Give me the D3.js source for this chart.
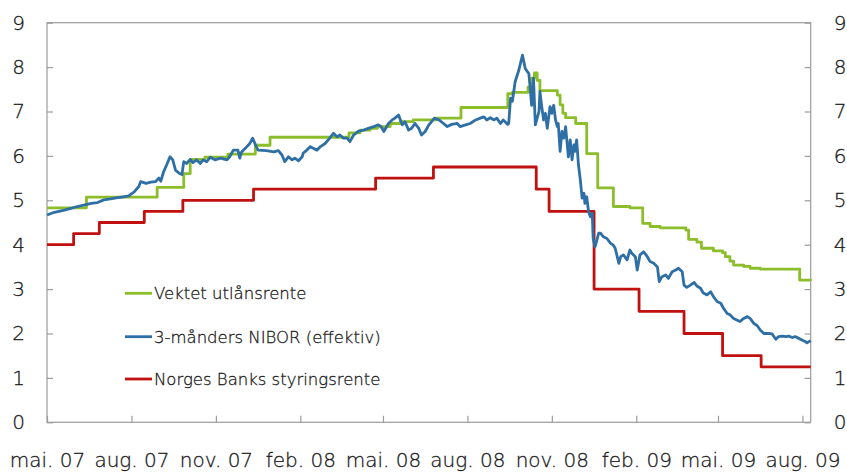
<!DOCTYPE html>
<html>
<head>
<meta charset="utf-8">
<script src="https://cdn.jsdelivr.net/npm/d3@7"></script>
<style>
  html, body { margin: 0; padding: 0; background: #fff; }
  svg text { font-family: "DejaVu Sans", sans-serif; font-weight: 200; fill: #1a1a1a;
             stroke: #1a1a1a; stroke-width: 0.3px; }
</style>
</head>
<body>
<svg id="chart" width="847" height="473"></svg>
<script>
// Axis ticks and labels
const yTicks = [0, 1, 2, 3, 4, 5, 6, 7, 8, 9];
const xTickDates = ["2007-05-01", "2007-08-01", "2007-11-01", "2008-02-01", "2008-05-01",
                    "2008-08-01", "2008-11-01", "2009-02-01", "2009-05-01", "2009-08-01"];
const xTickLabels = ["mai. 07", "aug. 07", "nov. 07", "feb. 08", "mai. 08",
                     "aug. 08", "nov. 08", "feb. 09", "mai. 09", "aug. 09"];
const dateRange = ["2007-05-01", "2009-08-10"];

const seriesNames = ["Vektet utlånsrente", "3-månders NIBOR (effektiv)", "Norges Banks styringsrente"];

// Weighted lending rate (changes, held until next change)
const lending = [
  ["2007-05-01", 4.83], ["2007-06-13", 5.07], ["2007-08-29", 5.29], ["2007-09-27", 5.60],
  ["2007-10-04", 5.92], ["2007-10-20", 5.97], ["2007-11-14", 6.04], ["2007-12-14", 6.24],
  ["2007-12-30", 6.42], ["2008-03-25", 6.52], ["2008-04-06", 6.58], ["2008-04-17", 6.62],
  ["2008-04-25", 6.66], ["2008-05-09", 6.73], ["2008-05-20", 6.77], ["2008-06-03", 6.81],
  ["2008-06-28", 6.85], ["2008-07-25", 7.09], ["2008-09-14", 7.40], ["2008-09-19", 7.43],
  ["2008-10-06", 7.55], ["2008-10-10", 7.75], ["2008-10-13", 7.87], ["2008-10-16", 7.70],
  ["2008-10-19", 7.47], ["2008-11-07", 7.37], ["2008-11-10", 7.15], ["2008-11-13", 6.96],
  ["2008-11-16", 6.86], ["2008-11-27", 6.73], ["2008-12-09", 6.05], ["2008-12-21", 5.28],
  ["2009-01-07", 4.86], ["2009-01-25", 4.83], ["2009-02-08", 4.48], ["2009-02-16", 4.41],
  ["2009-02-27", 4.38], ["2009-03-27", 4.33], ["2009-03-30", 4.12], ["2009-04-08", 4.06],
  ["2009-04-13", 3.92], ["2009-04-26", 3.86], ["2009-05-06", 3.82], ["2009-05-09", 3.73],
  ["2009-05-14", 3.63], ["2009-05-18", 3.54], ["2009-05-29", 3.51], ["2009-06-05", 3.47],
  ["2009-06-16", 3.45], ["2009-07-29", 3.20], ["2009-08-10", 3.19]
];

// 3-month NIBOR (effective)
const nibor = [
  ["2007-05-01", 4.67], ["2007-05-09", 4.73], ["2007-05-20", 4.78], ["2007-05-27", 4.82],
  ["2007-06-03", 4.86], ["2007-06-10", 4.89], ["2007-06-18", 4.93], ["2007-06-25", 4.95],
  ["2007-07-02", 5.01], ["2007-07-09", 5.03], ["2007-07-17", 5.06], ["2007-07-24", 5.08],
  ["2007-07-29", 5.10], ["2007-08-04", 5.19], ["2007-08-09", 5.31], ["2007-08-11", 5.42],
  ["2007-08-17", 5.38], ["2007-08-22", 5.41], ["2007-08-27", 5.42], ["2007-08-31", 5.50],
  ["2007-09-02", 5.43], ["2007-09-05", 5.64], ["2007-09-09", 5.83], ["2007-09-12", 5.98],
  ["2007-09-15", 5.91], ["2007-09-18", 5.68], ["2007-09-22", 5.61], ["2007-09-25", 5.58],
  ["2007-09-27", 5.87], ["2007-09-30", 5.83], ["2007-10-04", 5.92], ["2007-10-07", 5.85],
  ["2007-10-11", 5.91], ["2007-10-15", 5.83], ["2007-10-18", 5.91], ["2007-10-22", 5.87],
  ["2007-10-26", 5.97], ["2007-10-31", 5.91], ["2007-11-06", 5.95], ["2007-11-13", 5.91],
  ["2007-11-16", 5.98], ["2007-11-20", 6.13], ["2007-11-25", 6.13], ["2007-11-27", 5.95],
  ["2007-11-29", 6.09], ["2007-12-03", 6.17], ["2007-12-08", 6.28], ["2007-12-11", 6.40],
  ["2007-12-15", 6.21], ["2007-12-17", 6.13], ["2007-12-26", 6.12], ["2008-01-03", 6.09],
  ["2008-01-08", 6.12], ["2008-01-12", 6.02], ["2008-01-15", 5.87], ["2008-01-19", 5.98],
  ["2008-01-23", 5.91], ["2008-01-26", 5.95], ["2008-01-30", 5.89], ["2008-02-03", 5.98],
  ["2008-02-04", 6.06], ["2008-02-08", 6.13], ["2008-02-12", 6.21], ["2008-02-15", 6.17],
  ["2008-02-19", 6.13], ["2008-02-23", 6.21], ["2008-02-28", 6.28], ["2008-03-04", 6.40],
  ["2008-03-08", 6.51], ["2008-03-12", 6.43], ["2008-03-15", 6.47], ["2008-03-19", 6.40],
  ["2008-03-23", 6.40], ["2008-03-26", 6.32], ["2008-03-30", 6.47], ["2008-04-04", 6.55],
  ["2008-04-10", 6.58], ["2008-04-15", 6.62], ["2008-04-21", 6.66], ["2008-04-26", 6.70],
  ["2008-04-29", 6.66], ["2008-05-02", 6.55], ["2008-05-07", 6.73], ["2008-05-11", 6.81],
  ["2008-05-14", 6.85], ["2008-05-18", 6.92], ["2008-05-22", 6.70], ["2008-05-25", 6.77],
  ["2008-05-29", 6.58], ["2008-06-01", 6.62], ["2008-06-05", 6.73], ["2008-06-09", 6.62],
  ["2008-06-12", 6.47], ["2008-06-16", 6.55], ["2008-06-20", 6.70], ["2008-06-23", 6.77],
  ["2008-06-26", 6.85], ["2008-07-01", 6.81], ["2008-07-06", 6.73], ["2008-07-10", 6.66],
  ["2008-07-15", 6.71], ["2008-07-21", 6.73], ["2008-07-24", 6.66], ["2008-07-30", 6.70],
  ["2008-08-04", 6.73], ["2008-08-10", 6.81], ["2008-08-15", 6.85], ["2008-08-19", 6.88],
  ["2008-08-22", 6.81], ["2008-08-26", 6.86], ["2008-08-30", 6.81], ["2008-09-02", 6.85],
  ["2008-09-06", 6.73], ["2008-09-09", 6.81], ["2008-09-14", 6.71], ["2008-09-15", 6.73],
  ["2008-09-17", 7.30], ["2008-09-19", 7.23], ["2008-09-22", 7.67], ["2008-09-26", 7.93],
  ["2008-09-30", 8.27], ["2008-10-03", 7.97], ["2008-10-07", 7.85], ["2008-10-10", 7.14],
  ["2008-10-12", 7.75], ["2008-10-14", 6.70], ["2008-10-18", 7.00], ["2008-10-19", 7.45],
  ["2008-10-21", 7.11], ["2008-10-23", 6.81], ["2008-10-25", 6.96], ["2008-10-27", 6.62],
  ["2008-10-30", 7.11], ["2008-11-01", 6.96], ["2008-11-03", 7.14], ["2008-11-05", 6.81],
  ["2008-11-07", 6.66], ["2008-11-08", 6.73], ["2008-11-10", 6.10], ["2008-11-12", 6.55],
  ["2008-11-14", 6.40], ["2008-11-16", 6.66], ["2008-11-17", 6.43], ["2008-11-19", 5.98],
  ["2008-11-21", 6.36], ["2008-11-23", 5.91], ["2008-11-25", 6.25], ["2008-11-26", 6.10],
  ["2008-11-28", 6.36], ["2008-11-30", 5.80], ["2008-12-02", 5.46], ["2008-12-04", 5.05],
  ["2008-12-06", 5.16], ["2008-12-07", 4.93], ["2008-12-09", 5.08], ["2008-12-11", 4.74],
  ["2008-12-13", 4.63], ["2008-12-15", 4.71], ["2008-12-16", 4.14], ["2008-12-18", 3.95],
  ["2008-12-20", 4.10], ["2008-12-22", 4.26], ["2008-12-24", 4.26], ["2008-12-27", 4.18],
  ["2008-12-31", 4.14], ["2009-01-04", 4.03], ["2009-01-07", 3.99], ["2009-01-09", 3.92],
  ["2009-01-13", 3.58], ["2009-01-15", 3.73], ["2009-01-18", 3.77], ["2009-01-22", 3.66],
  ["2009-01-25", 3.88], ["2009-01-27", 3.81], ["2009-01-31", 3.73], ["2009-02-02", 3.43],
  ["2009-02-05", 3.77], ["2009-02-09", 3.84], ["2009-02-13", 3.73], ["2009-02-16", 3.62],
  ["2009-02-20", 3.58], ["2009-02-24", 3.50], ["2009-02-26", 3.17], ["2009-03-01", 3.28],
  ["2009-03-05", 3.32], ["2009-03-08", 3.24], ["2009-03-12", 3.39], ["2009-03-16", 3.43],
  ["2009-03-19", 3.47], ["2009-03-23", 3.39], ["2009-03-25", 3.09], ["2009-03-28", 3.04],
  ["2009-04-01", 3.09], ["2009-04-05", 3.15], ["2009-04-08", 3.07], ["2009-04-12", 3.02],
  ["2009-04-15", 2.91], ["2009-04-19", 2.87], ["2009-04-23", 2.94], ["2009-04-26", 2.83],
  ["2009-04-30", 2.72], ["2009-05-04", 2.68], ["2009-05-07", 2.57], ["2009-05-11", 2.45],
  ["2009-05-14", 2.42], ["2009-05-18", 2.34], ["2009-05-22", 2.30], ["2009-05-25", 2.27],
  ["2009-05-29", 2.34], ["2009-06-02", 2.38], ["2009-06-05", 2.34], ["2009-06-09", 2.23],
  ["2009-06-13", 2.17], ["2009-06-16", 2.08], ["2009-06-20", 2.00], ["2009-06-25", 2.00],
  ["2009-06-29", 1.99], ["2009-07-03", 1.87], ["2009-07-06", 1.93], ["2009-07-10", 1.94],
  ["2009-07-14", 1.93], ["2009-07-17", 1.94], ["2009-07-21", 1.91], ["2009-07-24", 1.93],
  ["2009-07-28", 1.89], ["2009-08-01", 1.85], ["2009-08-04", 1.82], ["2009-08-06", 1.79],
  ["2009-08-10", 1.84]
];

// Norges Bank policy rate (decision dates)
const policy = [
  ["2007-05-01", 4.00], ["2007-05-30", 4.25], ["2007-06-27", 4.50], ["2007-08-15", 4.75],
  ["2007-09-26", 5.00], ["2007-12-12", 5.25], ["2008-04-23", 5.50], ["2008-06-25", 5.75],
  ["2008-10-15", 5.25], ["2008-10-29", 4.75], ["2008-12-17", 3.00], ["2009-02-04", 2.50],
  ["2009-03-25", 2.00], ["2009-05-06", 1.50], ["2009-06-17", 1.25], ["2009-08-10", 1.25]
];

const colors = { lending: "#8cbd2a", nibor: "#2e6fa5", policy: "#c0100f" };
const lineWidth = 2.8;

const parse = d3.utcParse("%Y-%m-%d");
const plot = { left: 47, right: 810.7, top: 22.7, bottom: 422.3 };

const svg = d3.select("#chart");

const x = d3.scaleUtc().domain(dateRange.map(parse)).range([plot.left, plot.right]);
const y = d3.scaleLinear().domain([0, 9]).range([plot.bottom, plot.top]);

// Frame around the plot area
svg.append("rect")
  .attr("x", plot.left).attr("y", plot.top)
  .attr("width", plot.right - plot.left).attr("height", plot.bottom - plot.top)
  .attr("fill", "none").attr("stroke", "#9c9c9c").attr("stroke-width", 1.2);

// Axes
const tickFont = 20;
const styleAxis = g => {
  g.select(".domain").remove();
  g.selectAll(".tick line").attr("stroke", "#9c9c9c").attr("stroke-width", 1.2);
  g.selectAll(".tick text").attr("font-size", tickFont).attr("fill", "#1a1a1a")
    .attr("font-family", null);
};

svg.append("g").attr("transform", `translate(${plot.left},0)`)
  .call(d3.axisLeft(y).tickValues(yTicks).tickFormat(d3.format("d"))
    .tickSizeInner(-6).tickSizeOuter(0).tickPadding(22))
  .call(styleAxis);

svg.append("g").attr("transform", `translate(${plot.right},0)`)
  .call(d3.axisRight(y).tickValues(yTicks).tickFormat(d3.format("d"))
    .tickSizeInner(-6).tickSizeOuter(0).tickPadding(23))
  .call(styleAxis);

svg.append("g").attr("transform", `translate(0,${plot.bottom})`)
  .call(d3.axisBottom(x).tickValues(xTickDates.map(parse))
    .tickFormat((d, i) => xTickLabels[i])
    .tickSizeInner(-6.5).tickSizeOuter(0).tickPadding(31))
  .call(styleAxis);

// Series lines
const toPts = arr => arr.map(([d, v]) => ({ date: parse(d), value: v }));
const stepLine = d3.line().x(d => x(d.date)).y(d => y(d.value)).curve(d3.curveStepAfter);
const plainLine = d3.line().x(d => x(d.date)).y(d => y(d.value));

svg.append("path").datum(toPts(lending))
  .attr("d", stepLine).attr("fill", "none")
  .attr("stroke", colors.lending).attr("stroke-width", lineWidth).attr("stroke-linejoin", "round");

svg.append("path").datum(toPts(policy))
  .attr("d", stepLine).attr("fill", "none")
  .attr("stroke", colors.policy).attr("stroke-width", lineWidth).attr("stroke-linejoin", "round");

svg.append("path").datum(toPts(nibor))
  .attr("d", plainLine).attr("fill", "none")
  .attr("stroke", colors.nibor).attr("stroke-width", lineWidth).attr("stroke-linejoin", "round");

// Legend: short colour line followed by the series name
const legendColors = [colors.lending, colors.nibor, colors.policy];
const legendRows = [293.3, 336.7, 379];
const legend = svg.append("g");
seriesNames.forEach((name, i) => {
  const ly = legendRows[i];
  legend.append("line")
    .attr("x1", 125).attr("x2", 152).attr("y1", ly).attr("y2", ly)
    .attr("stroke", legendColors[i]).attr("stroke-width", lineWidth);
  legend.append("text")
    .attr("x", 154).attr("y", ly).attr("dy", "0.36em")
    .attr("font-size", 16.5).text(name);
});
</script>
</body>
</html>
